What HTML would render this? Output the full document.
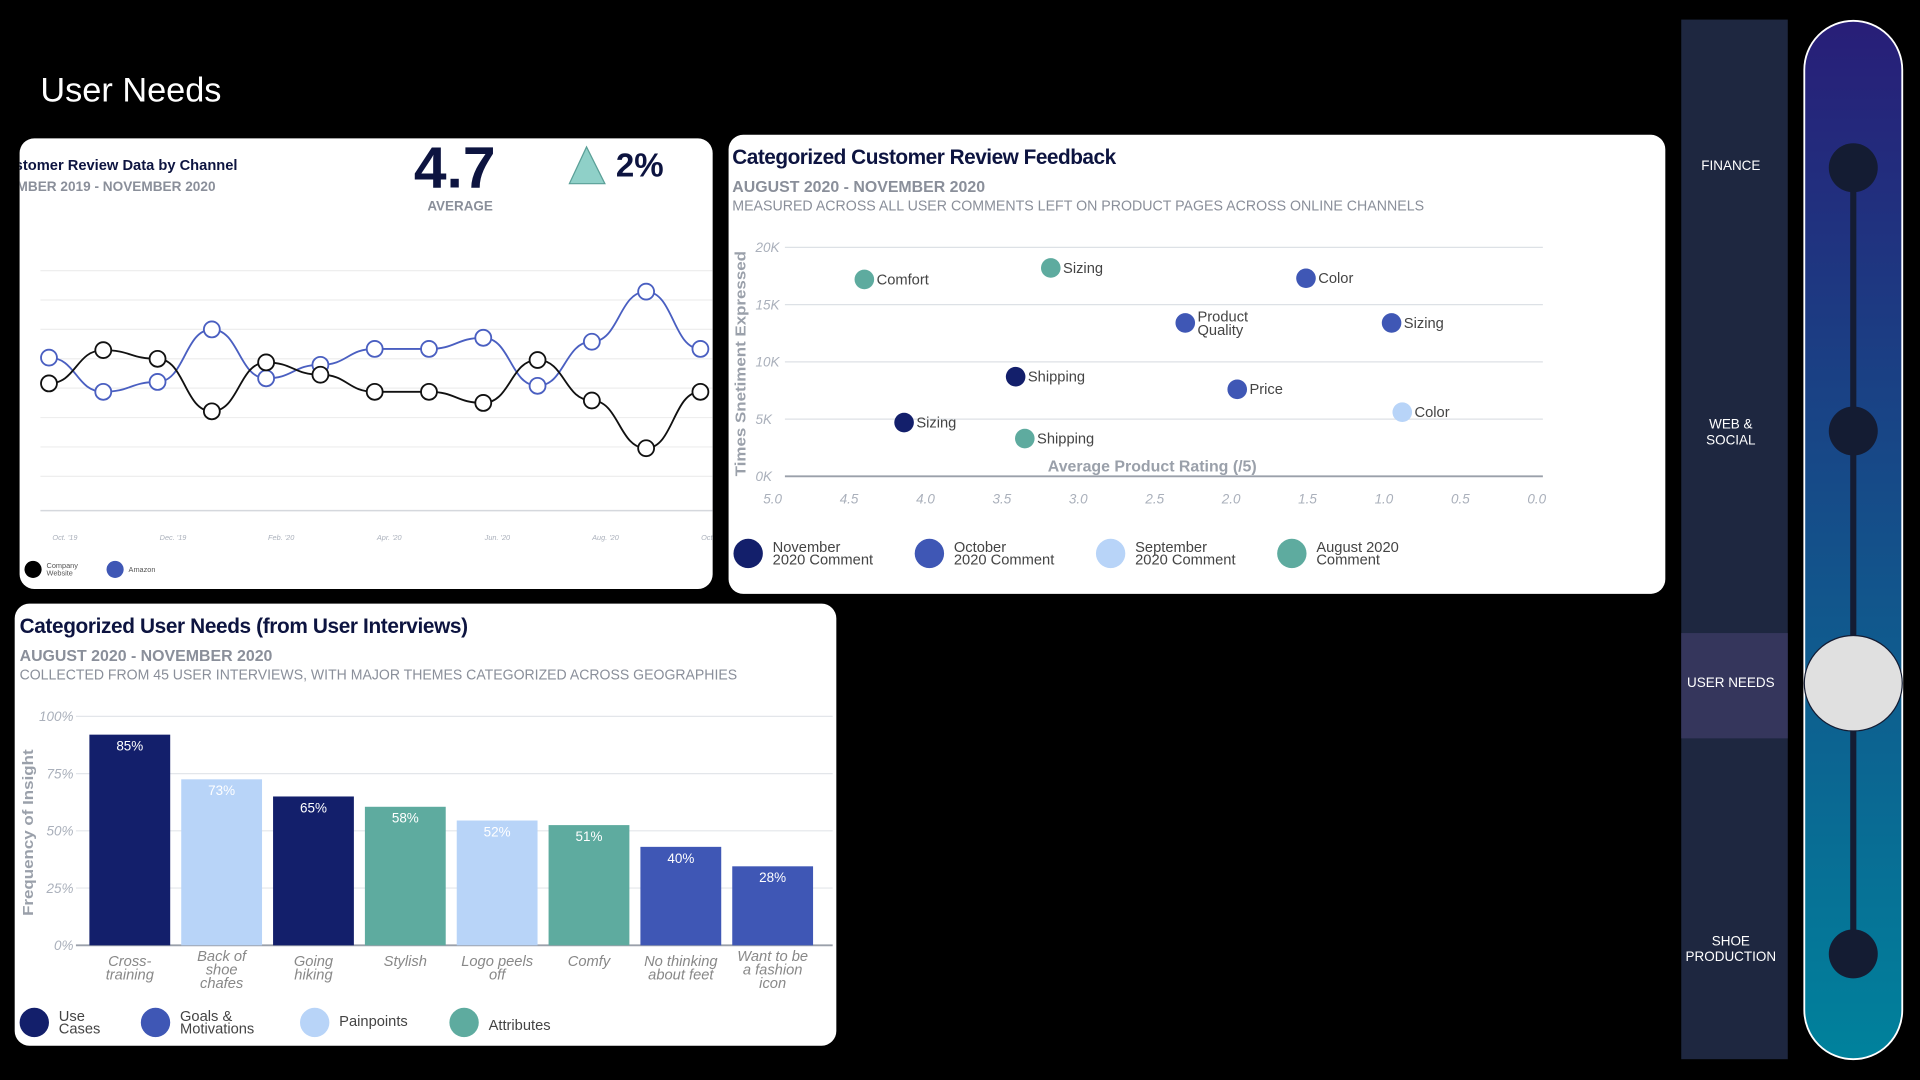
<!DOCTYPE html>
<html><head><meta charset="utf-8">
<style>
html,body{margin:0;padding:0;background:#000;width:1920px;height:1080px;overflow:hidden}
#w{position:absolute;left:0;top:0;width:1568px;height:882px;transform:scale(1.2245);transform-origin:0 0;font-family:"Liberation Sans",sans-serif}
.card{position:absolute;background:#fff;border-radius:12px;overflow:hidden}
.t{position:absolute;white-space:nowrap}
svg text{font-family:"Liberation Sans",sans-serif}
</style></head><body>
<div id="w">
<div class="t" style="left:33px;top:58px;font-size:28px;color:#fff">User Needs</div>

<div class="card" style="left:16px;top:113px;width:566px;height:368px">
<svg id="lineSvg" width="566" height="368">
<text x="-20" y="26" font-size="12" font-weight="bold" fill="#0d1440">Customer Review Data by Channel</text>
<text x="-34" y="43" font-size="11" font-weight="bold" fill="#8a8f9a" textLength="194" lengthAdjust="spacingAndGlyphs">NOVEMBER 2019 - NOVEMBER 2020</text>
<text x="322" y="40" font-size="48" font-weight="bold" fill="#0d1440">4.7</text>
<text x="333" y="59" font-size="11" font-weight="bold" fill="#8a8f9a">AVERAGE</text>
<polygon points="463,7 449,37 478,37" fill="#8fd0c8" stroke="#5a9f97" stroke-width="1"/>
<text x="487" y="31" font-size="27" font-weight="bold" fill="#0d1440">2%</text>
</svg>
</div>

<div class="card" style="left:595px;top:110px;width:765px;height:375px">
<svg id="scatSvg" width="765" height="375">
<text x="3" y="24" font-size="17" font-weight="bold" fill="#0d1440" letter-spacing="-0.4">Categorized Customer Review Feedback</text>
<text x="3" y="47" font-size="13" font-weight="bold" fill="#8a8f9a">AUGUST 2020 - NOVEMBER 2020</text>
<text x="3" y="62" font-size="12" fill="#8a8f9a" textLength="565" lengthAdjust="spacingAndGlyphs">MEASURED ACROSS ALL USER COMMENTS LEFT ON PRODUCT PAGES ACROSS ONLINE CHANNELS</text>
</svg>
</div>

<div class="card" style="left:12px;top:493px;width:671px;height:361px">
<svg id="barSvg" width="671" height="361">
<text x="4" y="24" font-size="17" font-weight="bold" fill="#0d1440" letter-spacing="-0.3">Categorized User Needs (from User Interviews)</text>
<text x="4" y="47" font-size="13" font-weight="bold" fill="#8a8f9a">AUGUST 2020 - NOVEMBER 2020</text>
<text x="4" y="62" font-size="12" fill="#8a8f9a" textLength="586" lengthAdjust="spacingAndGlyphs">COLLECTED FROM 45 USER INTERVIEWS, WITH MAJOR THEMES CATEGORIZED ACROSS GEOGRAPHIES</text>
</svg>
</div>

<div style="position:absolute;left:1373px;top:16px;width:87px;height:849px;background:#1e2740">
<div style="position:absolute;left:0;top:501px;width:87px;height:86px;background:#35365c"></div>
<div class="t" style="left:0;width:81px;top:114px;text-align:center;color:#fff;font-size:11px">FINANCE</div>
<div class="t" style="left:0;width:81px;top:325px;text-align:center;color:#fff;font-size:11px;line-height:13px">WEB &amp;<br>SOCIAL</div>
<div class="t" style="left:0;width:81px;top:536px;text-align:center;color:#fff;font-size:11px">USER NEEDS</div>
<div class="t" style="left:0;width:81px;top:747px;text-align:center;color:#fff;font-size:11px;line-height:13px">SHOE<br>PRODUCTION</div>
</div>
<svg style="position:absolute;left:1470px;top:14px" width="90" height="856">
<defs><linearGradient id="g" x1="0" y1="0" x2="0" y2="1"><stop offset="0" stop-color="#281e78"/><stop offset="1" stop-color="#00829c"/></linearGradient></defs>
<rect x="3.5" y="3" width="80" height="848" rx="40" fill="url(#g)" stroke="#fff" stroke-width="1.5"/>
<line x1="43.5" y1="123" x2="43.5" y2="765" stroke="#141c33" stroke-width="5"/>
<ellipse cx="43.5" cy="123" rx="20" ry="20" fill="#141c33"/>
<ellipse cx="43.5" cy="338" rx="20" ry="20" fill="#141c33"/>
<ellipse cx="43.5" cy="544" rx="40" ry="39" fill="#e0e0e0" stroke="#141c33" stroke-width="1"/>
<ellipse cx="43.5" cy="765" rx="20" ry="20" fill="#141c33"/>
</svg>
</div>

<script>
const NS='http://www.w3.org/2000/svg';
function mk(p,tag,at,txt){const e=document.createElementNS(NS,tag);for(const k in at)e.setAttribute(k,at[k]);if(txt!=null)e.textContent=txt;p.appendChild(e);return e;}

/* ---------- line chart data ---------- */
const lineCount=13;
const companyValues=[4.24,5.35,5.06,3.31,4.94,4.53,3.96,3.96,3.59,5.02,3.67,2.08,3.96];
const amazonValues=[5.1,3.96,4.29,6.04,4.41,4.86,5.39,5.39,5.76,4.16,5.63,7.3,5.39];
const lineTickLabels=["Oct. '19","Dec. '19","Feb. '20","Apr. '20","Jun. '20","Aug. '20","Oct. '20"];

/* ---------- scatter data ---------- */
const scatterNames=["Comfort","Sizing","Color","Product Quality","Sizing","Shipping","Price","Color","Sizing","Shipping"];
const scatterRating=[4.4,3.18,1.51,2.3,0.95,3.41,1.96,0.88,4.14,3.35];
const scatterCount=[17.2,18.2,17.3,13.4,13.4,8.7,7.6,5.6,4.7,3.3];
const scatterMonth=["aug","aug","oct","oct","oct","nov","oct","sep","nov","aug"];
const scatterYTicks=["0K","5K","10K","15K","20K"];
const scatterXTicks=["5.0","4.5","4.0","3.5","3.0","2.5","2.0","1.5","1.0","0.5","0.0"];

/* ---------- bar data ---------- */
const barCategories=[["Cross-","training"],["Back of","shoe","chafes"],["Going","hiking"],["Stylish"],["Logo peels","off"],["Comfy"],["No thinking","about feet"],["Want to be","a fashion","icon"]];
const barValues=[92,72.5,65,60.5,54.5,52.5,43,34.5];
const barLabels=["85%","73%","65%","58%","52%","51%","40%","28%"];
const barGroups=["use","pain","use","attr","pain","attr","goal","goal"];
const barYTicks=["0%","25%","50%","75%","100%"];

const COL={nov:"#131f6b",oct:"#3f57b5",sep:"#b8d4f8",aug:"#5eab9f",use:"#131f6b",goal:"#3f57b5",pain:"#b8d4f8",attr:"#5eab9f"};

/* line chart */
(function(){
const s=document.getElementById('lineSvg');
const X=i=>24+i*(532/(lineCount-1));
const Y=v=>304-v*24.5;
for(let k=0;k<9;k++){const y=k<8?108+k*24:304;
 const g=mk(s,'line',{x1:17,x2:566,y1:y,y2:y,stroke:k<8?'#eeeeee':'#d5d8dd','stroke-width':k<8?1:1.2});
 
 }
lineTickLabels.forEach((t,i)=>{const e=mk(s,'text',{x:37+i*88.3,y:328,'font-size':6,'font-style':'italic',fill:'#aab0bb','text-anchor':'middle'},t);
 
 });
function series(vals,color,name){
 let d='';vals.forEach((v,i)=>{const x=X(i),y=Y(v);if(i==0)d='M'+x+','+y;else{const px=X(i-1),py=Y(vals[i-1]);const m=(x-px)/2;d+=' C'+(px+m)+','+py+' '+(x-m)+','+y+' '+x+','+y;}});
 const p=mk(s,'path',{d:d,fill:'none',stroke:color,'stroke-width':1.5});
 
 
 return ()=>vals.forEach((v,i)=>{const c=mk(s,'circle',{cx:X(i),cy:Y(v),r:6.5,fill:'#fff',stroke:color,'stroke-width':1.5});
  
  });
}
const a=series(amazonValues,'#4a5fc1','amazon');const b=series(companyValues,'#111','company');a();b();
const l1=mk(s,'circle',{cx:11,cy:352,r:7,fill:'#000'});


const t1=mk(s,'text',{x:22,y:351,'font-size':6,fill:'#555'},'Company');


mk(s,'text',{x:22,y:357,'font-size':6,fill:'#555'},'Website');
const l2=mk(s,'circle',{cx:78,cy:352,r:7,fill:'#3f57b5'});


const t2=mk(s,'text',{x:89,y:354,'font-size':6,fill:'#555'},'Amazon');


})();

/* scatter */
(function(){
const s=document.getElementById('scatSvg');
const X=r=>36+(5-r)*124.8;
const Y=v=>279-v*9.35;
scatterYTicks.forEach((t,i)=>{const v=i*5;const y=Y(v);
 const g=mk(s,'line',{x1:46,x2:665,y1:y,y2:y,stroke:i==0?'#9aa0aa':'#dde1e6','stroke-width':i==0?1.5:1});
 
 
 const e=mk(s,'text',{x:22,y:y+4,'font-size':11,'font-style':'italic',fill:'#aab0bb'},t);
 
 });
scatterXTicks.forEach((t,i)=>{const e=mk(s,'text',{x:X(5-i*0.5),y:301,'font-size':11,'font-style':'italic',fill:'#aab0bb','text-anchor':'middle'},t);
 
 });
const yt=mk(s,'text',{transform:'translate(14,187) rotate(-90)','font-size':12,'font-weight':'bold',fill:'#9aa0aa','text-anchor':'middle',textLength:184,lengthAdjust:'spacingAndGlyphs'},'Times Snetiment Expressed');


const xt=mk(s,'text',{x:346,y:275,'font-size':13,'font-weight':'bold',fill:'#9aa0aa','text-anchor':'middle'},'Average Product Rating (/5)');


scatterNames.forEach((n,i)=>{const x=X(scatterRating[i]),y=Y(scatterCount[i]);
 const c=mk(s,'circle',{cx:x,cy:y,r:8,fill:COL[scatterMonth[i]]});
 
 
 const parts=n=='Product Quality'?['Product','Quality']:[n];
 parts.forEach((p,j)=>{const e=mk(s,'text',{x:x+10,y:y+4+(parts.length>1?-5+j*11:0),'font-size':12,fill:'#444'},p);
  
  });});
const leg=[['nov','November','2020 Comment'],['oct','October','2020 Comment'],['sep','September','2020 Comment'],['aug','August 2020','Comment']];
leg.forEach((l,i)=>{const x=16+i*148;
 const c=mk(s,'circle',{cx:x,cy:342,r:12,fill:COL[l[0]]});
 
 
 const t=mk(s,'text',{x:x+20,y:341,'font-size':12,fill:'#444'},l[1]);
 
 
 mk(s,'text',{x:x+20,y:351,'font-size':12,fill:'#444'},l[2]);});
})();

/* bars */
(function(){
const s=document.getElementById('barSvg');
const Y=v=>279-v*1.87;
const X=i=>61+i*75;
barYTicks.forEach((t,i)=>{const y=Y(i*25);
 const g=mk(s,'line',{x1:50,x2:668,y1:y,y2:y,stroke:i==0?'#9aa0aa':'#e3e6ea','stroke-width':i==0?1.5:1});
 
 
 const e=mk(s,'text',{x:48,y:y+4,'font-size':11,'font-style':'italic',fill:'#aab0bb','text-anchor':'end'},t);
 
 });
const yt=mk(s,'text',{transform:'translate(15,187) rotate(-90)','font-size':12,'font-weight':'bold',fill:'#9aa0aa','text-anchor':'middle',textLength:136,lengthAdjust:'spacingAndGlyphs'},'Frequency of Insight');


barValues.forEach((v,i)=>{const x=X(i),y=Y(v);
 const r=mk(s,'rect',{x:x,y:y,width:66,height:Y(0)-y,fill:COL[barGroups[i]]});
 
 
 const t=mk(s,'text',{x:x+33,y:y+13,'font-size':11,fill:'#fff','text-anchor':'middle'},barLabels[i]);
 
 
 const c=barCategories[i];const y0=c.length==3?292:296;
 c.forEach((p,j)=>{const e=mk(s,'text',{x:x+33,y:y0+j*11,'font-size':12,'font-style':'italic',fill:'#888','text-anchor':'middle'},p);
  
  });});
const leg=[['use','Use','Cases'],['goal','Goals &','Motivations'],['pain','Painpoints',null],['attr','Attributes',null]];
const lx=[16,115,245,367];
leg.forEach((l,i)=>{const x=lx[i];
 const c=mk(s,'circle',{cx:x,cy:342,r:12,fill:COL[l[0]]});
 
 
 const t=mk(s,'text',{x:x+20,y:l[2]?341:(i==3?348:345),'font-size':12,fill:'#444'},l[1]);
 
 
 if(l[2])mk(s,'text',{x:x+20,y:351,'font-size':12,fill:'#444'},l[2]);});
})();
</script>
</body></html>
